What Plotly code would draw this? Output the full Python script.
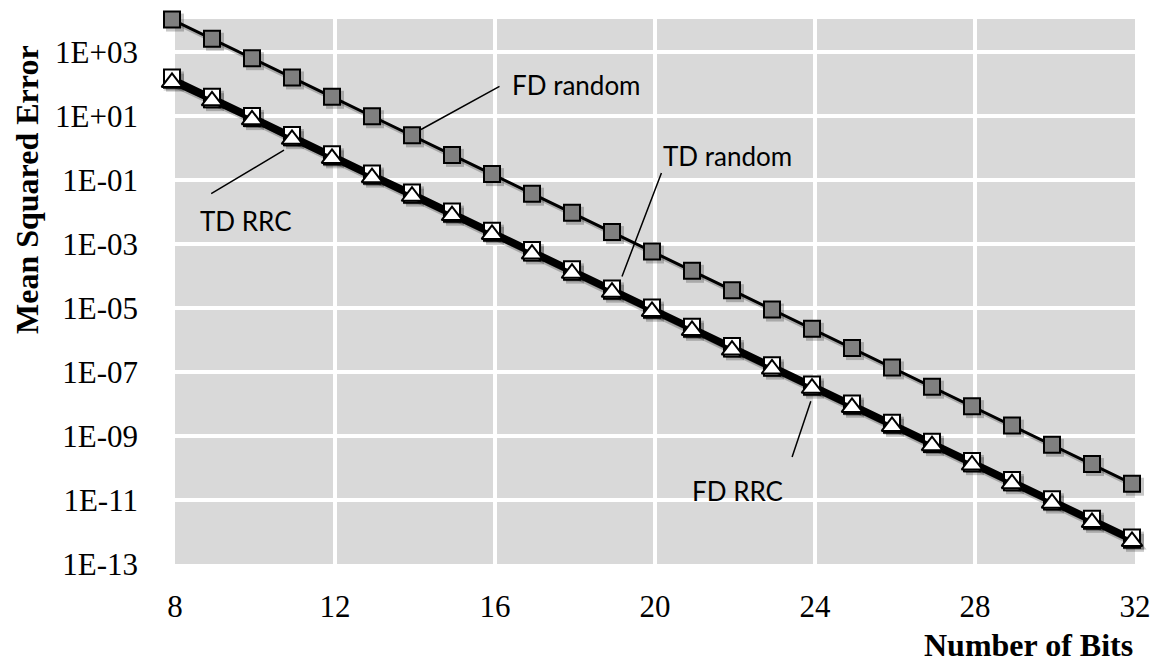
import plotly.graph_objects as go

# ---------------- data ----------------
bits = [8, 9, 10, 11, 12, 13, 14, 15, 16, 17, 18, 19, 20,
        21, 22, 23, 24, 25, 26, 27, 28, 29, 30, 31, 32]

fd_random = [8300, 2090, 515, 129, 32, 7.9, 2.0, 0.49, 0.123, 0.030, 7.6e-3, 1.9e-3, 4.7e-4,
             1.17e-4, 2.9e-5, 7.2e-6, 1.8e-6, 4.5e-7, 1.12e-7, 2.8e-8, 6.9e-9, 1.7e-9, 4.3e-10,
             1.07e-10, 2.6e-11]

td_random = [129, 32, 8.1, 2.05, 0.51, 0.128, 0.033, 8.3e-3, 2.1e-3, 5.2e-4, 1.3e-4, 3.3e-5, 8.3e-6,
             2.1e-6, 5.2e-7, 1.3e-7, 3.3e-8, 8.3e-9, 2.1e-9, 5.3e-10, 1.34e-10, 3.4e-11, 8.5e-12,
             2.1e-12, 5.4e-13]

fd_rrc = [110, 27, 6.9, 1.75, 0.44, 0.11, 0.028, 7.1e-3, 1.8e-3, 4.4e-4, 1.1e-4, 2.8e-5, 7.1e-6,
          1.8e-6, 4.4e-7, 1.1e-7, 2.8e-8, 7.1e-9, 1.8e-9, 4.5e-10, 1.14e-10, 2.9e-11, 7.2e-12,
          1.8e-12, 4.6e-13]

td_rrc = [90, 24, 6.1, 1.5, 0.38, 0.095, 0.025, 6.2e-3, 1.6e-3, 3.9e-4, 9.8e-5, 2.5e-5, 6.3e-6,
          1.6e-6, 3.9e-7, 1.0e-7, 2.5e-8, 6.3e-9, 1.6e-9, 4.0e-10, 1.0e-10, 2.6e-11, 6.4e-12,
          1.6e-12, 4.1e-13]

x_tick_vals = [8, 12, 16, 20, 24, 28, 32]
x_tick_text = ["8", "12", "16", "20", "24", "28", "32"]
y_tick_vals = [1e3, 1e1, 1e-1, 1e-3, 1e-5, 1e-7, 1e-9, 1e-11, 1e-13]
y_tick_text = ["1E+03", "1E+01", "1E-01", "1E-03", "1E-05", "1E-07", "1E-09", "1E-11", "1E-13"]

# ---------------- layout geometry ----------------
OFF = 8                   # page body margin of the html page
W, H = 1158 - OFF, 664 - OFF
ML, MR, MT, MB = 172 - OFF, 23, 16 - OFF, 100
PW = W - ML - MR          # 963
PH = H - MT - MB          # 548
SH = 3                    # shadow offset in px

def px(x):
    return (x - OFF - ML) / PW

def py(y):
    return (H - MB - (y - OFF)) / PH

XR = [8, 32]
YR = [-13, 4.03]

fig = go.Figure()

series = [
    ("FD RRC", fd_rrc, "square", 16, "white", 4),
    ("TD random", td_random, "square", 16, "white", 4),
    ("TD RRC", td_rrc, "triangle-up", 18, "white", 4),
    ("FD random", fd_random, "square", 16, "#7F7F7F", 3),
]

# shadows (same data, drawn on an axis pair offset by a few pixels)
for name, vals, sym, size, fill, lw in series:
    fig.add_trace(go.Scatter(
        x=bits, y=vals, mode="lines+markers", name=name + " shadow",
        xaxis="x", yaxis="y", cliponaxis=False, showlegend=False, hoverinfo="skip",
        line=dict(color="rgba(0,0,0,0.22)", width=lw + 1),
        marker=dict(symbol=sym, size=size + 2, color="rgba(0,0,0,0.22)",
                    line=dict(width=0)),
    ))

# main series
for name, vals, sym, size, fill, lw in series:
    fig.add_trace(go.Scatter(
        x=bits, y=vals, mode="lines+markers", name=name,
        xaxis="x2", yaxis="y2", cliponaxis=False, showlegend=False,
        line=dict(color="black", width=lw),
        marker=dict(symbol=sym, size=size, color=fill,
                    line=dict(color="black", width=2)),
    ))

tick_font = dict(family="Liberation Serif", size=31, color="black")

fig.update_layout(
    width=W, height=H,
    margin=dict(l=ML, r=MR, t=MT, b=MB, pad=0, autoexpand=False),
    paper_bgcolor="white",
    plot_bgcolor="rgba(0,0,0,0)",
    showlegend=False,
    xaxis=dict(domain=[SH / PW, 1], range=XR, tickvals=x_tick_vals, ticktext=x_tick_text,
               showgrid=True, gridcolor="white", gridwidth=4, zeroline=False,
               showline=False, ticks="", tickfont=tick_font, ticklabelstandoff=21,
               anchor="y", automargin=False),
    yaxis=dict(domain=[0, 1 - SH / PH], type="log", range=YR, tickvals=y_tick_vals,
               ticktext=y_tick_text, showgrid=True, gridcolor="white", gridwidth=4,
               zeroline=False, showline=False, ticks="", tickfont=tick_font,
               ticklabelstandoff=36, anchor="x", automargin=False),
    xaxis2=dict(domain=[0, 1 - SH / PW], range=XR, visible=False, anchor="y2",
                automargin=False),
    yaxis2=dict(domain=[SH / PH, 1], type="log", range=YR, visible=False, anchor="x2",
                automargin=False),
    shapes=[dict(type="rect", xref="x domain", yref="y domain", x0=0, x1=1, y0=0, y1=1,
                 fillcolor="#D9D9D9", line=dict(width=0), layer="below")],
)

lab_font = dict(family="Lato", size=26, color="black")
labels = [
    ("FD random", 16.45, 1.86),
    ("TD random", 20.22, -0.36),
    ("TD RRC", 8.65, -2.39),
    ("FD RRC", 20.95, -10.80),
]
for text, lx, ly in labels:
    fig.add_annotation(text=text, x=lx, y=ly, xref="x2", yref="y2", showarrow=False,
                       xanchor="left", yanchor="middle", font=lab_font)

leaders = [
    (14.225, 0.484, 16.225, 1.859),
    (19.25, -4.109, 20.25, -0.828),
    (10.8, -0.1625, 8.9425, -1.547),
    (23.97, -8.006, 23.49, -9.797),
]
for x0, y0, x1, y1 in leaders:
    fig.add_annotation(text="", x=x0, y=y0, ax=x1, ay=y1, xref="x2", yref="y2",
                       axref="x2", ayref="y2", showarrow=True, arrowhead=0,
                       arrowwidth=1.5, arrowcolor="black", standoff=0, startstandoff=0)

title_font = dict(family="Liberation Serif", size=32, color="black", weight="bold")
fig.add_annotation(text="Mean Squared Error", x=px(27), y=py(190), xref="paper", yref="paper",
                   showarrow=False, textangle=-90, xanchor="center", yanchor="middle",
                   font=title_font)
fig.add_annotation(text="Number of Bits", x=px(1135), y=py(645), xref="paper", yref="paper",
                   showarrow=False, xanchor="right", yanchor="middle", font=title_font)

fig.write_html("out.html")
